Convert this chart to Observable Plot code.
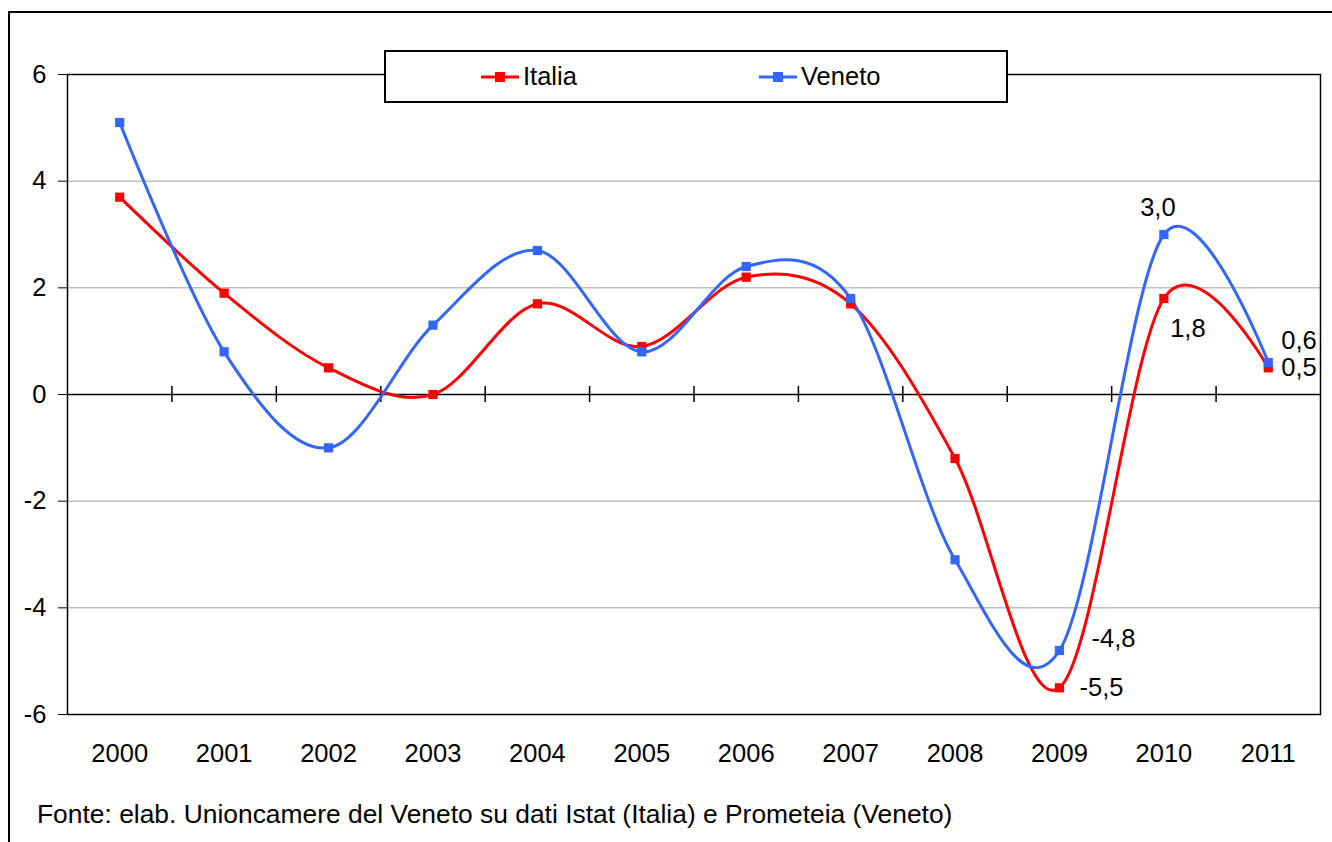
<!DOCTYPE html>
<html>
<head>
<meta charset="utf-8">
<script src="https://cdn.jsdelivr.net/npm/d3@7"></script>
<script src="https://cdn.jsdelivr.net/npm/@observablehq/plot@0.6"></script>
<style>
  html, body { margin: 0; padding: 0; background: #fff; }
  body { width: 1332px; height: 842px; position: relative; overflow: hidden; font-family: "Liberation Sans", Arial, sans-serif; }
  #frame { position: absolute; left: 8px; top: 11px; width: 1400px; height: 900px; border-left: 2px solid #000; border-top: 2px solid #000; box-sizing: border-box; }
  #chart { position: absolute; left: 0; top: 0; }
  #legend { position: absolute; left: 384px; top: 50px; width: 624px; height: 53px; border: 2px solid #000; background: #fff; box-sizing: border-box; }
  .item { position: absolute; top: 0; height: 49px; display: flex; align-items: center; font-size: 25.5px; color: #000; }
  .item svg { margin-right: 4px; }
  #caption { position: absolute; left: 37px; top: 799px; font-size: 26.4px; color: #000; white-space: nowrap; }
</style>
</head>
<body>
<div id="frame"></div>
<div id="chart"></div>
<div id="legend"></div>
<div id="caption"></div>
<script>
const years = ["2000","2001","2002","2003","2004","2005","2006","2007","2008","2009","2010","2011"];
const italia = [3.7, 1.9, 0.5, 0.0, 1.7, 0.9, 2.2, 1.7, -1.2, -5.5, 1.8, 0.5];
const veneto = [5.1, 0.8, -1.0, 1.3, 2.7, 0.8, 2.4, 1.8, -3.1, -4.8, 3.0, 0.6];
const yTicks = [-6, -4, -2, 0, 2, 4, 6];
const gridValues = [-4, -2, 2, 4];
const seriesNames = ["Italia", "Veneto"];
const seriesColors = ["#FF0000", "#3366FF"];
// data labels: [series, year index, dx, dy, anchor]
const labelSpecs = [
  ["Veneto", 10, -6, -27, "middle"],
  ["Italia", 10, 24, 30, "middle"],
  ["Veneto", 11, 13, -22, "start"],
  ["Italia", 11, 13, 0, "start"],
  ["Veneto", 9, 32, -12, "start"],
  ["Italia", 9, 20, 0, "start"]
];
const captionText = "Fonte: elab. Unioncamere del Veneto su dati Istat (Italia) e Prometeia (Veneto)";

const rowsIt = years.map((yr, i) => ({i, year: yr, value: italia[i], series: "Italia"}));
const rowsVe = years.map((yr, i) => ({i, year: yr, value: veneto[i], series: "Veneto"}));
const all = rowsIt.concat(rowsVe);
const boundaries = years.slice(1).map((_, i) => i + 0.5);
const fmt = v => v.toFixed(1).replace(".", ",");
const labels = labelSpecs.map(([s, i, dx, dy, anchor]) => {
  const v = s === "Italia" ? italia[i] : veneto[i];
  return {i, value: v, text: fmt(v), dx, dy, anchor};
});

const color = {domain: seriesNames, range: seriesColors};
const FS = 25.5;

const marks = [
  Plot.ruleY(gridValues, {stroke: "#c0c0c0", strokeWidth: 1.5}),
  Plot.ruleY([0], {stroke: "#000", strokeWidth: 1.5}),
  Plot.ruleX(boundaries, {x: d => d, y1: 0, y2: 0, insetTop: -8, insetBottom: -8, stroke: "#000", strokeWidth: 1.5}),
  Plot.frame({stroke: "#000", strokeWidth: 1.5}),
  Plot.axisY({ticks: yTicks, tickSize: 9, tickPadding: 12, tickFormat: d => String(d), fontSize: FS, label: null}),
  Plot.axisX({ticks: years.map((_, i) => i), tickSize: 0, tickPadding: 29, tickFormat: i => years[i], fontSize: FS, label: null}),
  Plot.line(all, {x: "i", y: "value", z: "series", stroke: "series", strokeWidth: 3, curve: "cardinal"}),
  Plot.dot(all, {x: "i", y: "value", fill: "series", symbol: "square", r: 5.2, stroke: "none"})
];
for (const l of labels) {
  marks.push(Plot.text([l], {x: "i", y: "value", text: "text", dx: l.dx, dy: l.dy, textAnchor: l.anchor, fontSize: FS, fill: "#000"}));
}

const chart = Plot.plot({
  width: 1332,
  height: 842,
  marginLeft: 67,
  marginRight: 12,
  marginTop: 74,
  marginBottom: 128,
  style: {fontFamily: "'Liberation Sans', Arial, sans-serif", background: "transparent", color: "#000"},
  x: {domain: [-0.5, years.length - 0.5], axis: null},
  y: {domain: [-6, 6], axis: null},
  color,
  marks
});
document.getElementById("chart").appendChild(chart);

// legend
const legend = document.getElementById("legend");
const legendX = [95, 373];
seriesNames.forEach((name, k) => {
  const div = document.createElement("div");
  div.className = "item";
  div.style.left = legendX[k] + "px";
  div.innerHTML = `<svg width="38" height="12"><line x1="0" y1="6" x2="38" y2="6" stroke="${seriesColors[k]}" stroke-width="3"/><rect x="14" y="1" width="10" height="10" fill="${seriesColors[k]}"/></svg><span>${name}</span>`;
  legend.appendChild(div);
});
document.getElementById("caption").textContent = captionText;
</script>
</body>
</html>
